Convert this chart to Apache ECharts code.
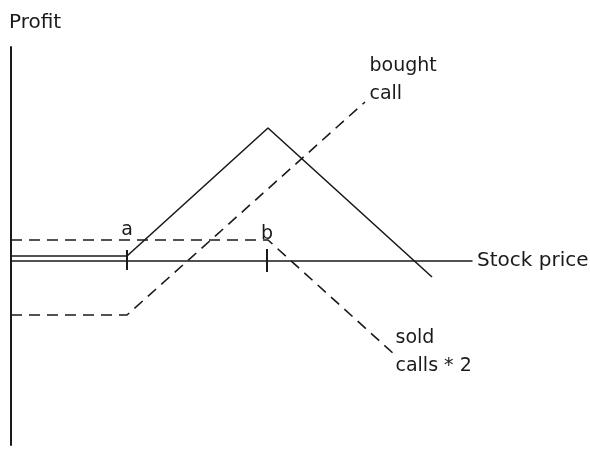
<!DOCTYPE html>
<html lang="en">
<head>
    <meta charset="UTF-8">
    <title>Payoff</title>
    <script src="https://cdn.jsdelivr.net/npm/echarts@6/dist/echarts.min.js"></script>
    <style>
        html, body { margin: 0; padding: 0; background: #fff; }
        #main { width: 590px; height: 458px; }
    </style>
</head>
<body>
    <div id="main"></div>
    <script type="text/javascript">
        // stock price / profit points
        var combined = [[0, 5], [116, 5], [257, 133], [421, -16]];
        var boughtCall = [[0, -54], [116, -54], [354, 159]];
        var soldCalls = [[0, 21], [257, 21], [384, -94]];
        var strikes = [116, 256];
        var strikeNames = ['a', 'b'];
        var tickTop = [11, 12];
        var tickBottom = [-9, -11];

        var font = 'DejaVu Sans';
        var ink = '#1a1a1a';
        var hidden = 'rgba(0,0,0,0)';

        var tickData = [];
        for (var i = 0; i < strikes.length; i++) {
            tickData.push({
                value: [strikes[i], tickTop[i]],
                label: { show: true, formatter: strikeNames[i], position: 'top', distance: i == 0 ? 10 : 5 }
            });
            tickData.push([strikes[i], tickBottom[i]]);
            tickData.push('-');
        }

        function endLabel(data, text, offset) {
            var out = data.slice(0, data.length - 1);
            out.push({
                value: data[data.length - 1],
                label: {
                    show: true, formatter: text, position: 'right', distance: 4,
                    offset: offset, lineHeight: 28,
                    fontFamily: font, fontSize: 19, color: ink
                }
            });
            return out;
        }

        var myChart = echarts.init(document.getElementById('main'));
        var option = {
            animation: false,
            backgroundColor: '#fff',
            grid: { left: 11, right: 118, top: 47, bottom: 13, containLabel: false, outerBoundsMode: 'none' },
            xAxis: {
                type: 'value', min: 0, max: 461,
                name: 'Stock price', nameLocation: 'end', nameGap: 5,
                nameTextStyle: { fontFamily: font, fontSize: 20, color: ink, padding: [0, 0, 8, 0] },
                axisLine: { show: true, onZero: true, lineStyle: { color: ink, width: 1.5 } },
                axisTick: { show: false }, axisLabel: { show: false }, splitLine: { show: false }
            },
            yAxis: {
                type: 'value', min: -184, max: 214,
                name: 'Profit', nameLocation: 'end', nameGap: 14,
                nameTextStyle: { fontFamily: font, fontSize: 20, color: ink, align: 'left', padding: [0, 0, 0, -2] },
                axisLine: { show: true, onZero: false, lineStyle: { color: ink, width: 2 } },
                axisTick: { show: false }, axisLabel: { show: false }, splitLine: { show: false }
            },
            series: [
                {
                    name: 'combined', type: 'line', symbol: 'none',
                    lineStyle: { color: ink, width: 1.6 },
                    data: combined
                },
                {
                    name: 'bought call', type: 'line', symbol: 'circle', symbolSize: 1,
                    itemStyle: { color: hidden },
                    lineStyle: { color: ink, width: 1.6, type: [11, 7] },
                    data: endLabel(boughtCall, 'bought\ncall', [0, -22])
                },
                {
                    name: 'sold calls', type: 'line', symbol: 'circle', symbolSize: 1,
                    itemStyle: { color: hidden },
                    lineStyle: { color: ink, width: 1.6, type: [11, 7] },
                    data: endLabel(soldCalls, 'sold\ncalls * 2', [-4, -3])
                },
                {
                    name: 'strikes', type: 'line', symbol: 'circle', symbolSize: 1,
                    connectNulls: false,
                    itemStyle: { color: hidden },
                    lineStyle: { color: ink, width: 2 },
                    label: { fontFamily: font, fontSize: 19, color: ink },
                    data: tickData
                }
            ]
        };
        myChart.setOption(option);
    </script>
</body>
</html>
